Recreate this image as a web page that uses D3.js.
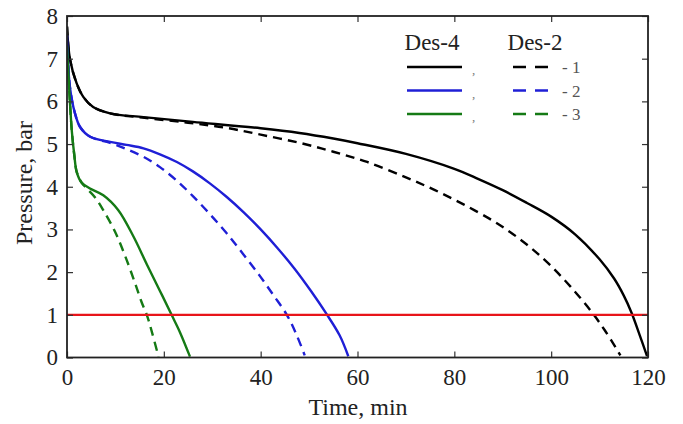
<!DOCTYPE html>
<html><head><meta charset="utf-8">
<script src="https://cdn.jsdelivr.net/npm/d3@7"></script>
<style>body{margin:0;background:#fff}svg{display:block}text{font-family:"Liberation Serif","Times New Roman",serif;fill:#222}</style>
</head><body><svg id="c" width="683" height="424"></svg>
<script>
// Des-4 (solid) and Des-2 (dashed) pressure curves, [time min, pressure bar]
const black4 = [[0,7.75],[0.6,7.0],[2.0,6.42],[3.4,6.1],[5.4,5.87],[8.9,5.72],[15.8,5.63],[26,5.52],[40,5.37],[48,5.26],[55,5.13],[60,5.02],[70,4.77],[80,4.42],[85,4.18],[90,3.92],[95,3.62],[100,3.3],[105,2.88],[110,2.3],[113,1.85],[115,1.45],[116.6,1.05],[118.3,0.52],[119.8,0.03]];
const black2 = [[0,7.75],[0.6,7.0],[2.0,6.42],[3.4,6.1],[5.4,5.87],[8.9,5.72],[15.6,5.62],[25,5.5],[32.9,5.38],[40,5.22],[48,5.03],[55,4.82],[62,4.58],[70,4.22],[76,3.92],[82,3.58],[88,3.2],[92,2.9],[96,2.55],[100,2.14],[104,1.66],[108,1.12],[111,0.65],[114.3,0.05]];
const blue4 = [[0,7.55],[0.6,6.34],[1.65,5.72],[2.7,5.4],[4.8,5.17],[8.9,5.05],[12.3,4.98],[15.8,4.9],[19.2,4.76],[22.7,4.58],[26,4.36],[29.5,4.08],[33,3.76],[36.5,3.4],[40,3.0],[43.5,2.56],[47,2.08],[50.5,1.54],[53.6,1.02],[56.3,0.52],[58.1,0.03]];
const blue2 = [[0,7.55],[0.6,6.34],[1.65,5.72],[2.7,5.4],[4.8,5.17],[8.9,5.03],[12.3,4.88],[15.8,4.7],[19.2,4.46],[22.6,4.15],[26,3.78],[29.5,3.36],[32.9,2.92],[36.4,2.42],[39.9,1.9],[42.7,1.45],[45.4,1.0],[47.3,0.56],[49.1,0.05]];
const green4 = [[0,7.3],[0.5,6.2],[1.0,5.3],[1.5,4.75],[2.0,4.35],[3.0,4.1],[4.75,3.96],[7.5,3.8],[10.6,3.45],[13.7,2.84],[16.5,2.18],[19.2,1.56],[21.6,1.0],[23.3,0.6],[25.4,0.02]];
const green2 = [[0,7.3],[0.5,6.2],[1.0,5.3],[1.5,4.75],[2.0,4.35],[3.0,4.1],[4.1,3.96],[5.8,3.75],[7.5,3.45],[9.9,2.95],[12.0,2.38],[14.0,1.76],[15.4,1.3],[16.6,0.96],[17.6,0.57],[18.9,0.02]];
const redLine = [[0,1],[120,1]];
const xTicks = [0,20,40,60,80,100,120];
const yTicks = [0,1,2,3,4,5,6,7,8];
const legendHeads = ["Des-4","Des-2"];
const legendLabels = ["- 1","- 2","- 3"];

const svg = d3.select("#c");
const x = d3.scaleLinear().domain([0,120]).range([67,648]);
const y = d3.scaleLinear().domain([0,8]).range([357.5,16]);
const colors = {black:"#000", blue:"#1f1fd6", green:"#157a15", red:"#e8141a"};

const line = d3.line().x(d=>x(d[0])).y(d=>y(d[1])).curve(d3.curveCatmullRom.alpha(0.5));
svg.append("defs").append("clipPath").attr("id","clip").append("rect")
  .attr("x",67).attr("y",16).attr("width",581).attr("height",341.5);
const plot = svg.append("g").attr("clip-path","url(#clip)");
const series = [
  {d:black2,c:colors.black,dash:"9,6"},{d:blue2,c:colors.blue,dash:"9,6"},{d:green2,c:colors.green,dash:"9,6"},
  {d:black4,c:colors.black},{d:blue4,c:colors.blue},{d:green4,c:colors.green}
];
series.forEach(s=>{
  plot.append("path").attr("d",line(s.d)).attr("fill","none").attr("stroke",s.c)
    .attr("stroke-width",2.4).attr("stroke-dasharray",s.dash||null);
});
plot.append("path").attr("d",d3.line().x(d=>x(d[0])).y(d=>y(d[1]))(redLine))
  .attr("stroke",colors.red).attr("stroke-width",2.2).attr("fill","none");

// axes with inward ticks on all four sides
const fs = 23;
const axB = d3.axisBottom(x).tickValues(xTicks).tickSizeInner(-6).tickSizeOuter(0).tickPadding(11);
const axT = d3.axisTop(x).tickValues(xTicks).tickSizeInner(-6).tickSizeOuter(0).tickFormat("");
const axL = d3.axisLeft(y).tickValues(yTicks).tickSizeInner(-6).tickSizeOuter(0).tickPadding(9);
const axR = d3.axisRight(y).tickValues(yTicks).tickSizeInner(-6).tickSizeOuter(0).tickFormat("");
[[axB,`translate(0,357.5)`],[axT,`translate(0,16)`],[axL,`translate(67,0)`],[axR,`translate(648,0)`]].forEach(([a,t])=>{
  const gg = svg.append("g").attr("transform",t).call(a);
  gg.select(".domain").remove();
  gg.selectAll(".tick line").attr("stroke","#333").attr("stroke-width",1.2);
  gg.selectAll("text").attr("font-size",fs).attr("font-family","Liberation Serif, serif").attr("fill","#222");
});
svg.append("rect").attr("x",67).attr("y",16).attr("width",581).attr("height",341.5)
  .attr("fill","none").attr("stroke","#222").attr("stroke-width",1.8);

svg.append("text").attr("x",358).attr("y",415).attr("text-anchor","middle").attr("font-size",24).text("Time, min");
svg.append("text").attr("transform","translate(32,183) rotate(-90)").attr("text-anchor","middle").attr("font-size",24).text("Pressure, bar");

// legend
const lg = svg.append("g");
lg.append("text").attr("x",432).attr("y",50).attr("text-anchor","middle").attr("font-size",23).text(legendHeads[0]);
lg.append("text").attr("x",535).attr("y",50).attr("text-anchor","middle").attr("font-size",23).text(legendHeads[1]);
const lc = [colors.black,colors.blue,colors.green];
legendLabels.forEach((t,i)=>{
  const yy = 67 + i*23.5;
  lg.append("line").attr("x1",407).attr("x2",462).attr("y1",yy).attr("y2",yy).attr("stroke",lc[i]).attr("stroke-width",2.4);
  lg.append("text").attr("x",472).attr("y",yy+7).attr("font-size",13).style("fill","#777").text(",");
  lg.append("line").attr("x1",513).attr("x2",553).attr("y1",yy).attr("y2",yy).attr("stroke",lc[i]).attr("stroke-width",2.4).attr("stroke-dasharray","13,9");
  lg.append("text").attr("x",562).attr("y",yy+6).attr("font-size",17).style("fill","#555").text(t);
});
</script></body></html>
